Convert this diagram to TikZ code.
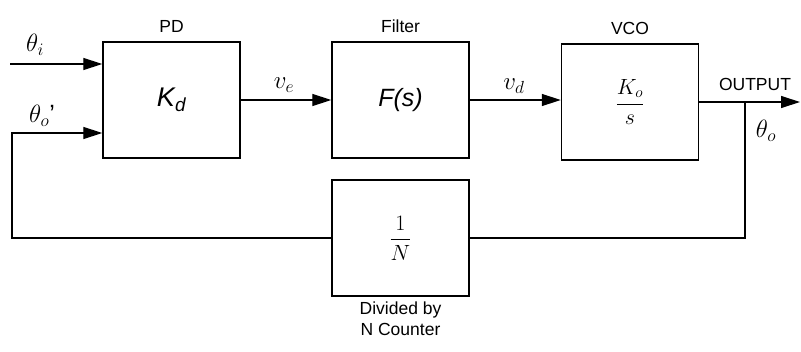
\RequirePackage{fix-cm}
\documentclass[tikz,border=0pt]{standalone}
\usepackage{fontspec}
\setmainfont{Liberation Sans}
\usetikzlibrary{arrows.meta, positioning}

\begin{document}
\begin{tikzpicture}[x=1pt,y=-1pt,font=\fontsize{17.5}{21}\selectfont,
  blk/.style={draw,line width=1.4pt,minimum width=137pt,minimum height=116pt},
  wire/.style={line width=1.2pt},
  sig/.style={wire,-{Triangle[length=19pt,width=12pt]}},
  big/.style={font=\fontsize{27}{30}\selectfont\itshape},
  mth/.style={font=\fontsize{22}{26}\selectfont},
  lbl/.style={font=\fontsize{25}{28}\selectfont}]
\useasboundingbox (0,0) rectangle (801,351);
% blocks
\node[blk,big] (pd) at (171.5,100) {K\textsubscript{d}};
\node[blk,mth] (filt) at (400.5,100) {\fontsize{25}{28}\selectfont\itshape F(s)};
\node[blk,mth] (vco) at (630,102) {$\displaystyle\frac{K_o}{s}$};
\node[blk,mth] (div) at (400.5,238) {$\displaystyle\frac{1}{N}$};
\node[above=5pt of pd] (pdname) {PD};
\node[above=5pt of filt] (filtname) {Filter};
\node[above=5pt of vco] (vconame) {VCO};
\node[below=2pt of div,align=center] (divname) {Divided by\\N Counter};
% signals
\coordinate (ti) at (10,64);
\coordinate (to) at (12,133);
\coordinate (out) at (800,102);
\coordinate (tap) at (745,102);
\draw[sig] (ti) -- (ti -| pd.west);
\draw[sig] (div.west) -| (to) -- (to -| pd.west);
\draw[sig] (pd.east) -- (pd.east -| filt.west);
\draw[sig] (filt.east) -- (filt.east -| vco.west);
\draw[sig] (vco.east) -- (vco.east -| out);
\draw[wire] (div.east) -| (tap);
% labels
\node[lbl] (lti) at (35,45) {$\theta_i$};
\node[lbl] (lto) at (42,116) {$\theta_o$'};
\node[lbl] (lve) at (284,85) {$v_e$};
\node[lbl] (lvd) at (514,86) {$v_d$};
\node (lout) at (755,84) {OUTPUT};
\node[lbl] (lth) at (766,131) {$\theta_o$};
\end{tikzpicture}
\end{document}
